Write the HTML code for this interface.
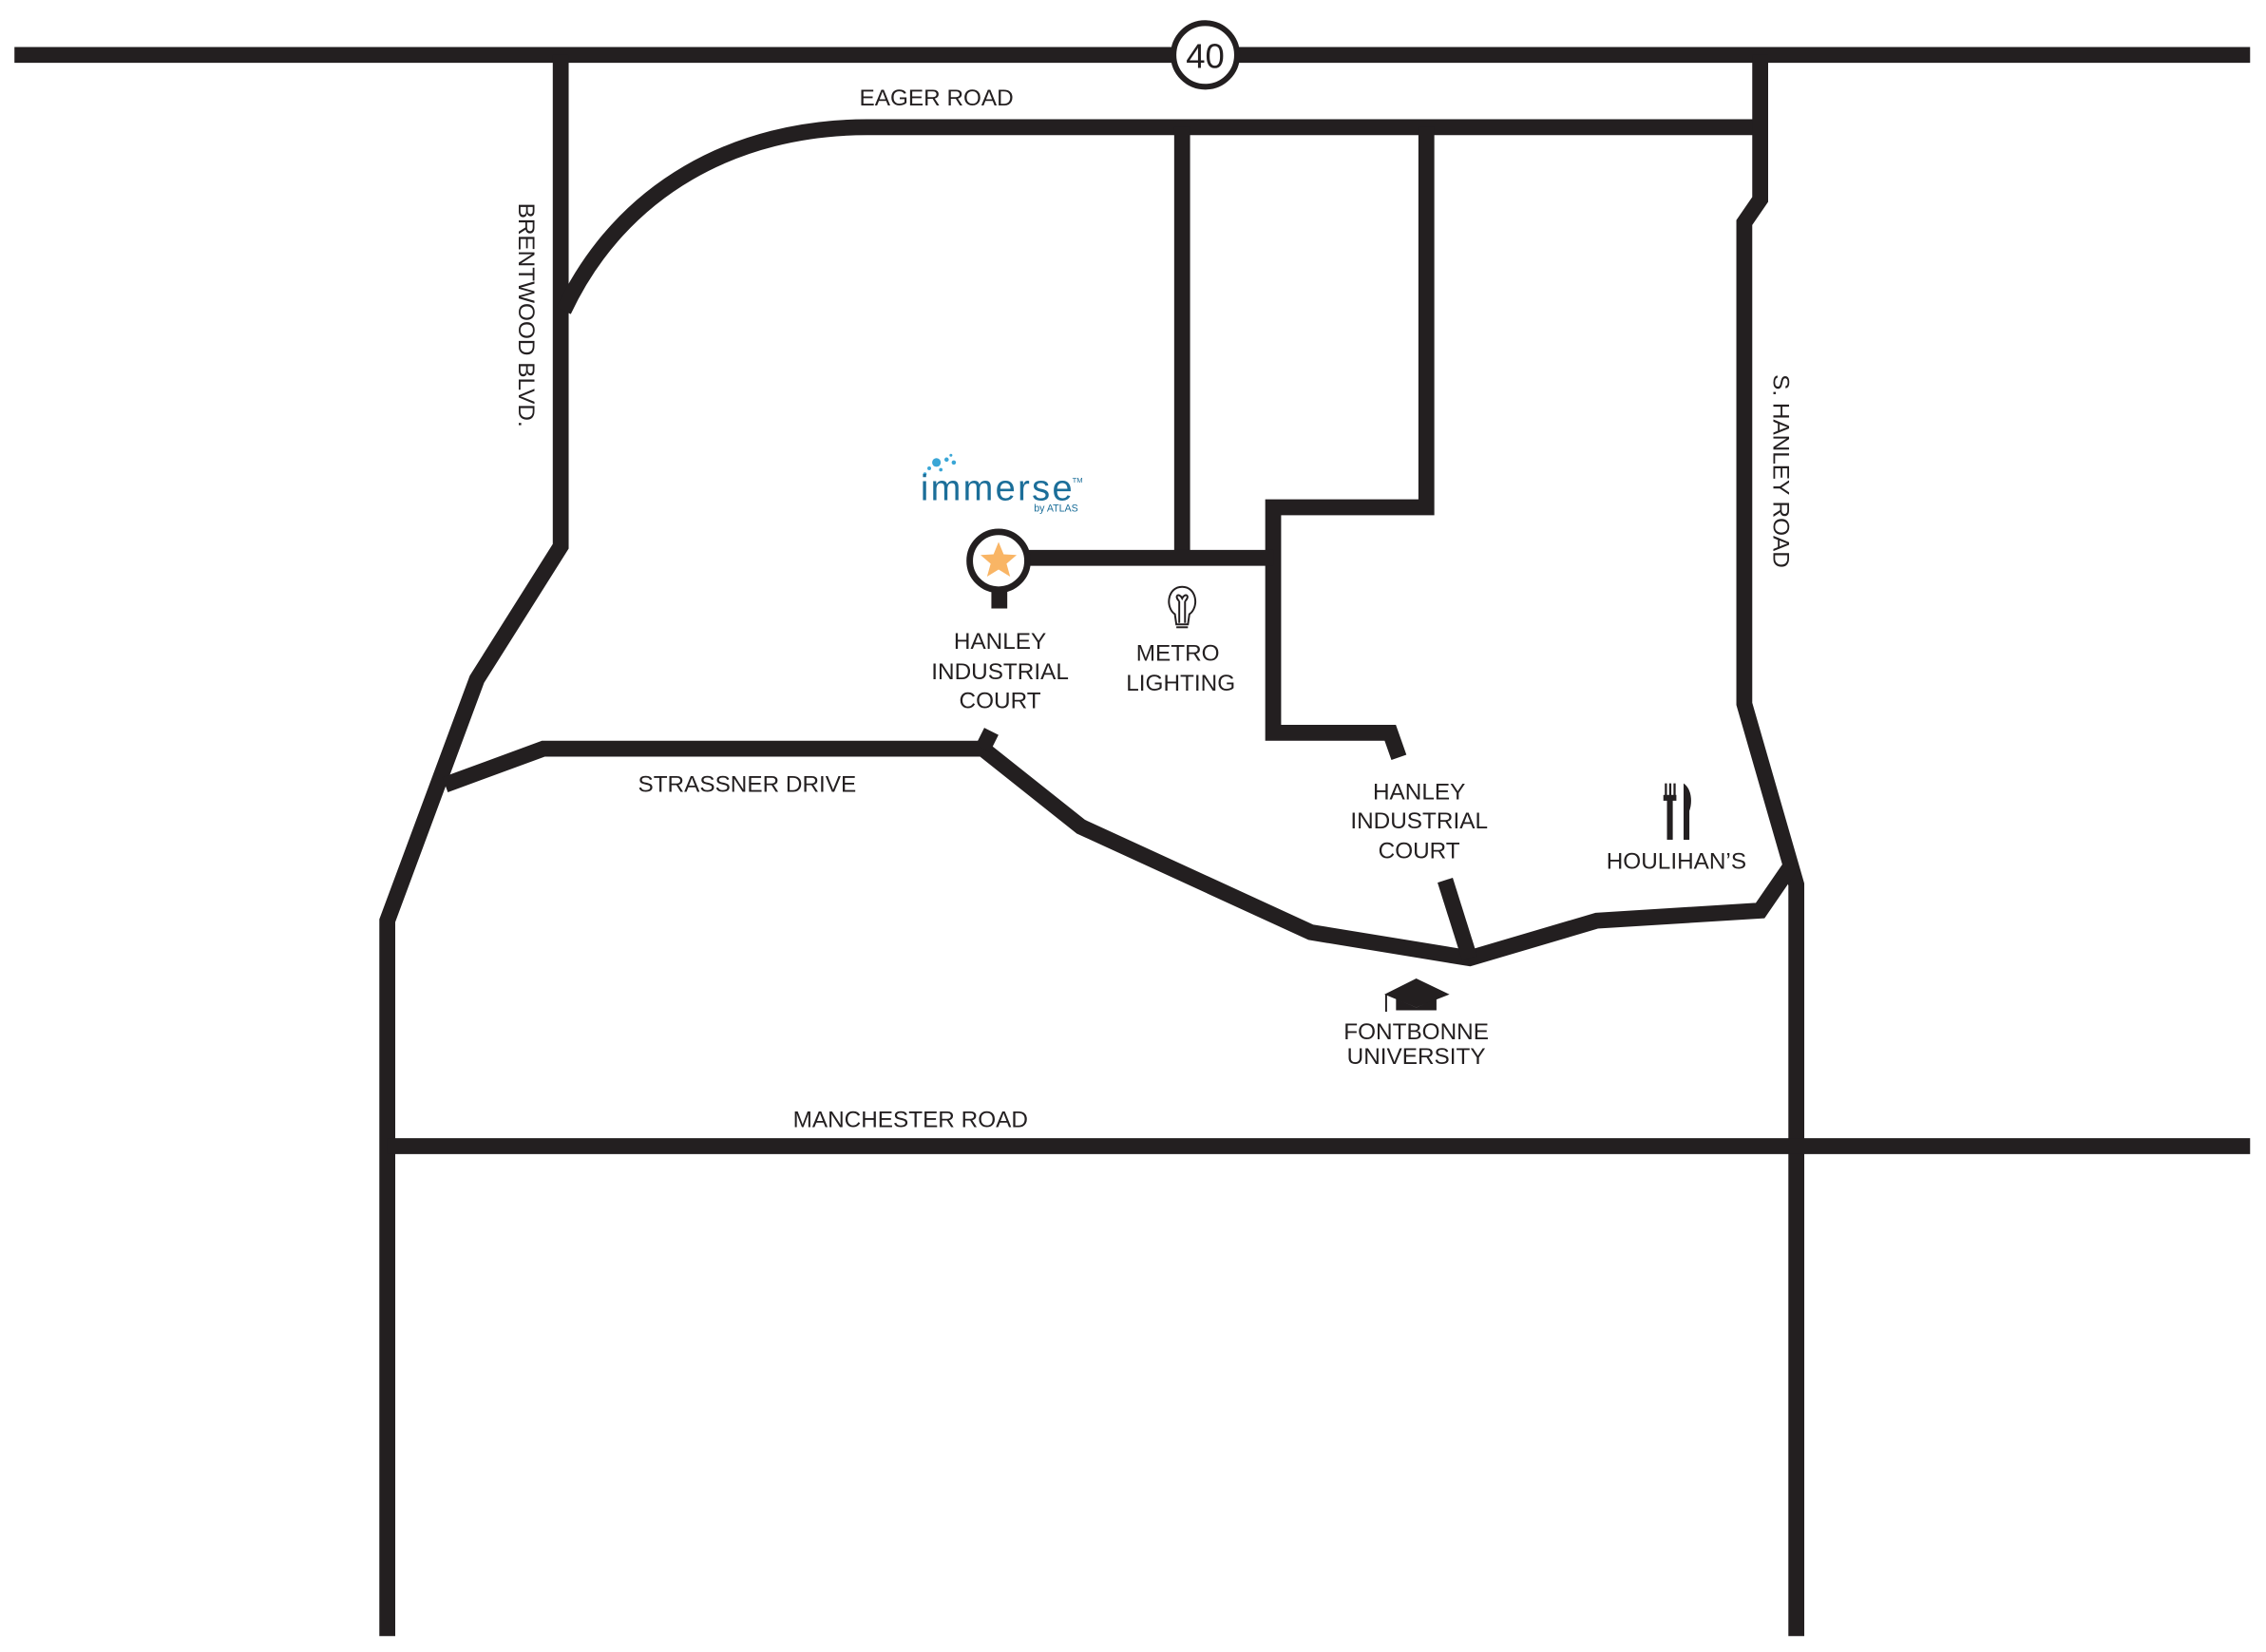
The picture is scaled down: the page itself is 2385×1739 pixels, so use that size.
<!DOCTYPE html>
<html><head><meta charset="utf-8"><style>
html,body{margin:0;padding:0;background:#fff;}
svg{display:block;}
text{font-family:"Liberation Sans",sans-serif;fill:#231f20;}
</style></head><body>
<svg width="2385" height="1739" viewBox="0 0 1568 1143" preserveAspectRatio="none" xmlns="http://www.w3.org/2000/svg">
<g fill="none" stroke="#231f20" stroke-width="11" stroke-linejoin="miter">
<path d="M10,38 L1557,38"/>
<path d="M388,38 L388,378 L330,470 L268,637 L268,1132"/>
<path d="M390,215 C430,130 510,88 600,88 L1218,88"/>
<path d="M1218,38 L1218,138 L1207,154 L1207,487 L1243,612 L1243,1132"/>
<path d="M818,88 L818,385"/>
<path d="M987,88 L987,351 L881,351 L881,507 L962,507 L968,524"/>
<path d="M712,386 L881,386"/>
<path d="M308,543 L376,518 L680,518 L748,572 L907,645 L1017,663 L1105,637 L1218,630 L1240,598"/>
<path d="M680,518 L686,506"/>
<path d="M1000,609 L1017,663"/>
<path d="M268,793 L1557,793"/>
</g>
<circle cx="834" cy="38" r="22" fill="#fff" stroke="#231f20" stroke-width="4"/>
<text x="834" y="47" font-size="24" text-anchor="middle">40</text>
<rect x="686" y="405" width="11" height="16" fill="#231f20"/>
<circle cx="691" cy="388" r="20" fill="#fff" stroke="#231f20" stroke-width="4.5"/>
<polygon points="691,375 694.5,383.5 703.5,384 696.5,390 699,399 691,394 683,399 685.5,390 678.5,384 687.5,383.5" fill="#f9b565"/>
<g fill="#3aa6d6"><circle cx="648" cy="320" r="3"/><circle cx="655" cy="318" r="1.5"/><circle cx="658" cy="315" r="1"/><circle cx="643" cy="324" r="1.3"/><circle cx="651" cy="325" r="1.2"/><circle cx="640" cy="328" r="1.2"/><circle cx="660" cy="320" r="1.5"/></g>
<text x="637" y="346" font-size="25" style="fill:#1b6e99" textLength="105">immerse</text>
<text x="742" y="334" font-size="5" style="fill:#1b6e99">TM</text>
<text x="746" y="354" font-size="7" text-anchor="end" style="fill:#1b6e99">by ATLAS</text>
<g font-size="16" text-anchor="middle">
<text x="648" y="73">EAGER ROAD</text>
<text x="692" y="449">HANLEY</text><text x="692" y="470">INDUSTRIAL</text><text x="692" y="490">COURT</text>
<text x="815" y="457">METRO</text><text x="817" y="478">LIGHTING</text>
<text x="517" y="548">STRASSNER DRIVE</text>
<text x="982" y="553">HANLEY</text><text x="982" y="573">INDUSTRIAL</text><text x="982" y="594">COURT</text>
<text x="1160" y="601">HOULIHAN’S</text>
<text x="980" y="719">FONTBONNE</text><text x="980" y="736">UNIVERSITY</text>
<text x="630" y="780">MANCHESTER ROAD</text>
<text transform="translate(359,218) rotate(90)">BRENTWOOD BLVD.</text>
<text transform="translate(1227,326) rotate(90)">S. HANLEY ROAD</text>
</g>
<g fill="none" stroke="#231f20" stroke-width="1.3">
<path d="M813,425 C806,420 808,406 818,406 C828,406 830,420 823,425 L822,432 L814,432 Z"/>
<path d="M816,431 L816,416 M820,431 L820,416 M816,416 C812,412 816,410 818,414 C820,410 824,412 820,416"/>
<path d="M814,434 L822,434"/>
</g>
<g fill="#231f20">
<rect x="1152" y="542" width="1.5" height="10"/><rect x="1155" y="542" width="1.5" height="10"/><rect x="1158" y="542" width="1.5" height="10"/>
<rect x="1151" y="550" width="9" height="4"/><rect x="1153.5" y="552" width="4" height="29"/>
<path d="M1165,542 C1171,546 1171,556 1169,561 L1169,581 L1165,581 Z"/>
<polygon points="958,688 980,677 1003,688 980,697"/>
<path d="M966,691 L966,699 L994,699 L994,691 L980,697 Z"/>
<rect x="958.5" y="688" width="1.3" height="12"/>
</g>
</svg>
</body></html>
